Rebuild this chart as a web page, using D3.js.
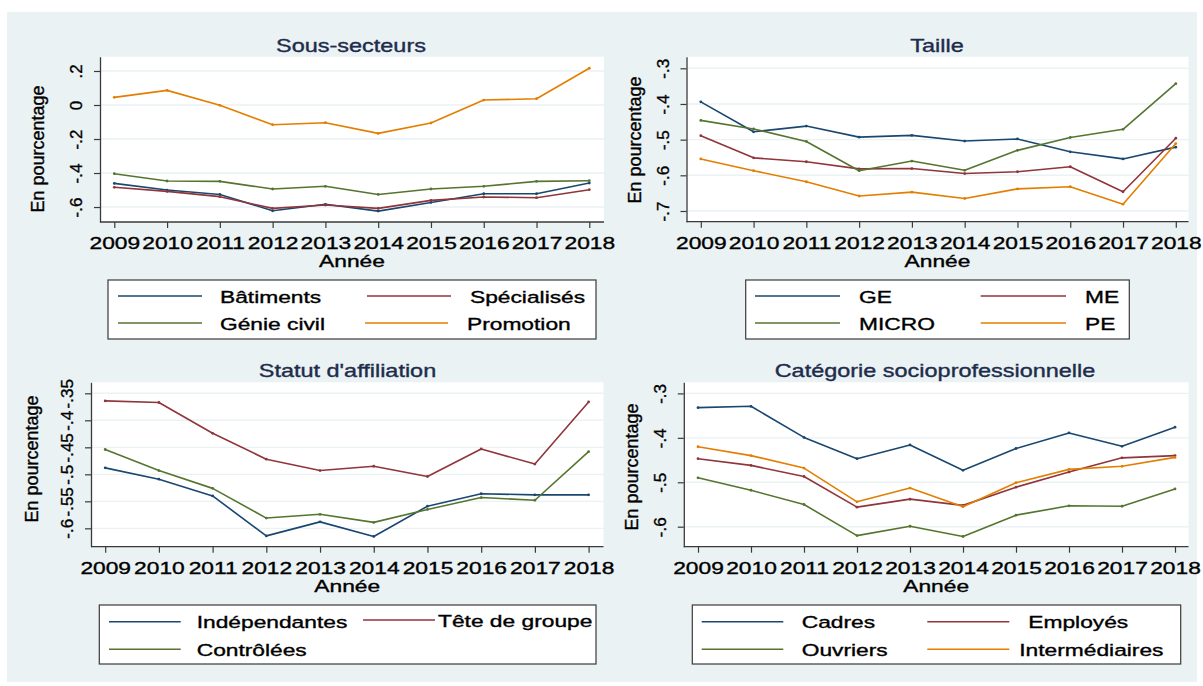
<!DOCTYPE html>
<html>
<head>
<meta charset="utf-8">
<script src="https://cdn.jsdelivr.net/npm/d3@7"></script>
<style>
  html, body { margin: 0; padding: 0; background: #ffffff; }
  svg { display: block; font-family: "Liberation Sans", Arial, sans-serif; }
  svg text { stroke-width: 0.35px; }
</style>
</head>
<body>
<svg id="chart" width="1203" height="686"></svg>
<script>
// Years on the x axis
const years = [2009, 2010, 2011, 2012, 2013, 2014, 2015, 2016, 2017, 2018];

// Sous-secteurs
const batiments   = [-0.461, -0.500, -0.526, -0.622, -0.584, -0.624, -0.573, -0.522, -0.522, -0.459];
const specialises = [-0.484, -0.508, -0.539, -0.608, -0.588, -0.608, -0.561, -0.541, -0.545, -0.498];
const genieCivil  = [-0.404, -0.447, -0.449, -0.494, -0.478, -0.526, -0.494, -0.478, -0.449, -0.445];
const promotion   = [0.045, 0.086, -0.002, -0.116, -0.104, -0.167, -0.106, 0.029, 0.037, 0.216];

// Taille
const ge    = [-0.394, -0.478, -0.462, -0.493, -0.488, -0.504, -0.498, -0.534, -0.554, -0.521];
const me    = [-0.489, -0.551, -0.562, -0.582, -0.581, -0.595, -0.590, -0.576, -0.646, -0.496];
const micro = [-0.446, -0.470, -0.505, -0.587, -0.560, -0.586, -0.530, -0.494, -0.471, -0.343];
const pe    = [-0.554, -0.587, -0.618, -0.658, -0.647, -0.665, -0.638, -0.632, -0.681, -0.511];

// Statut d'affiliation
const independantes = [-0.488, -0.509, -0.540, -0.614, -0.588, -0.615, -0.559, -0.536, -0.538, -0.538];
const teteDeGroupe  = [-0.364, -0.367, -0.424, -0.472, -0.493, -0.485, -0.504, -0.453, -0.481, -0.366];
const controlees    = [-0.454, -0.493, -0.526, -0.581, -0.574, -0.589, -0.565, -0.543, -0.548, -0.458];

// Catégorie socioprofessionnelle
const cadres         = [-0.332, -0.329, -0.399, -0.447, -0.416, -0.473, -0.424, -0.389, -0.419, -0.376];
const employes       = [-0.447, -0.462, -0.487, -0.556, -0.538, -0.552, -0.511, -0.477, -0.445, -0.440];
const ouvriers       = [-0.490, -0.518, -0.550, -0.620, -0.599, -0.622, -0.574, -0.553, -0.554, -0.515];
const intermediaires = [-0.420, -0.440, -0.468, -0.544, -0.513, -0.555, -0.501, -0.471, -0.464, -0.444];

// Y tick values and their labels
const ticksSousSecteurs = [-0.6, -0.4, -0.2, 0, 0.2];
const labelsSousSecteurs = ["-.6", "-.4", "-.2", "0", ".2"];
const ticksTaille = [-0.7, -0.6, -0.5, -0.4, -0.3];
const labelsTaille = ["-.7", "-.6", "-.5", "-.4", "-.3"];
const ticksStatut = [-0.6, -0.55, -0.5, -0.45, -0.4, -0.35];
const labelsStatut = ["-.6", "-.55", "-.5", "-.45", "-.4", "-.35"];
const ticksCsp = [-0.6, -0.5, -0.4, -0.3];
const labelsCsp = ["-.6", "-.5", "-.4", "-.3"];

const NAVY = "#1a476f", MAROON = "#90353b", GREEN = "#55752f", ORANGE = "#e37e00";
const BG = "#eaf2f3";
const SX = 1.34;   // horizontal widening of the upright labels

const svg = d3.select("#chart");

// graph region background
svg.append("rect").attr("x", 7).attr("y", 12).attr("width", 1190).attr("height", 670).attr("fill", BG);

const panels = [
  {
    title: "Sous-secteurs", titleX: 351, titleY: 51.7,
    left: 100, right: 604, top: 56.7, bottom: 222, x0: 114.3, x1: 589.3,
    yDomain: [-0.688, 0.284], ticks: ticksSousSecteurs, tickLabels: labelsSousSecteurs,
    yTitleX: 44, yTitleY: 149,
    series: [
      { name: "Bâtiments", values: batiments, color: NAVY },
      { name: "Spécialisés", values: specialises, color: MAROON },
      { name: "Génie civil", values: genieCivil, color: GREEN },
      { name: "Promotion", values: promotion, color: ORANGE }
    ],
    legend: {
      box: [108, 280, 596, 339],
      items: [
        { k: 0, x1: 118, x2: 202, tx: 220, y: 296 },
        { k: 1, x1: 367, x2: 451, tx: 470, y: 296 },
        { k: 2, x1: 118, x2: 202, tx: 220, y: 323 },
        { k: 3, x1: 365, x2: 448, tx: 467, y: 323 }
      ]
    }
  },
  {
    title: "Taille", titleX: 937, titleY: 51.7,
    left: 686.5, right: 1188.5, top: 56.7, bottom: 221.7, x0: 700.8, x1: 1175.8,
    yDomain: [-0.73, -0.2675], ticks: ticksTaille, tickLabels: labelsTaille,
    yTitleX: 641, yTitleY: 140,
    series: [
      { name: "GE", values: ge, color: NAVY },
      { name: "ME", values: me, color: MAROON },
      { name: "MICRO", values: micro, color: GREEN },
      { name: "PE", values: pe, color: ORANGE }
    ],
    legend: {
      box: [745.7, 280, 1129.3, 339],
      items: [
        { k: 0, x1: 755, x2: 840, tx: 859, y: 296 },
        { k: 1, x1: 980.7, x2: 1066, tx: 1085, y: 296 },
        { k: 2, x1: 755, x2: 840, tx: 859, y: 323 },
        { k: 3, x1: 980.7, x2: 1066, tx: 1085, y: 323 }
      ]
    }
  },
  {
    title: "Statut d'affiliation", titleX: 347.5, titleY: 376.7,
    left: 91, right: 603.5, top: 382.3, bottom: 546.7, x0: 105.2, x1: 588.6,
    yDomain: [-0.634, -0.3296], ticks: ticksStatut, tickLabels: labelsStatut,
    yTitleX: 38, yTitleY: 459,
    series: [
      { name: "Indépendantes", values: independantes, color: NAVY },
      { name: "Tête de groupe", values: teteDeGroupe, color: MAROON },
      { name: "Contrôlées", values: controlees, color: GREEN }
    ],
    legend: {
      box: [99.3, 605, 596, 664],
      items: [
        { k: 0, x1: 109, x2: 180.7, tx: 196.7, y: 621.7 },
        { k: 1, x1: 363, x2: 435, tx: 438, y: 620 },
        { k: 2, x1: 109, x2: 180.7, tx: 196.7, y: 649.3 }
      ]
    }
  },
  {
    title: "Catégorie socioprofessionnelle", titleX: 935, titleY: 376.7,
    left: 683.8, right: 1188.5, top: 382.3, bottom: 546.7, x0: 698, x1: 1175,
    yDomain: [-0.645, -0.275], ticks: ticksCsp, tickLabels: labelsCsp,
    yTitleX: 637.5, yTitleY: 467,
    series: [
      { name: "Cadres", values: cadres, color: NAVY },
      { name: "Employés", values: employes, color: MAROON },
      { name: "Ouvriers", values: ouvriers, color: GREEN },
      { name: "Intermédiaires", values: intermediaires, color: ORANGE }
    ],
    legend: {
      box: [692.3, 605, 1180.7, 664],
      items: [
        { k: 0, x1: 701.7, x2: 783.3, tx: 801.7, y: 621.7 },
        { k: 1, x1: 927.3, x2: 1009.3, tx: 1028.3, y: 621.7 },
        { k: 2, x1: 701.7, x2: 783.3, tx: 801.7, y: 649.3 },
        { k: 3, x1: 927.3, x2: 1009.3, tx: 1019.3, y: 649.3 }
      ]
    }
  }
];

function wideText(g, x, y, str, anchor, size, fill) {
  return g.append("text")
    .attr("transform", `translate(${x},${y}) scale(${SX},1)`)
    .attr("text-anchor", anchor)
    .attr("font-size", size)
    .attr("fill", fill)
    .attr("stroke", fill)
    .text(str);
}

panels.forEach(p => {
  const g = svg.append("g");
  const x = d3.scaleLinear().domain([years[0], years[years.length - 1]]).range([p.x0, p.x1]);
  const y = d3.scaleLinear().domain(p.yDomain).range([p.bottom, p.top]);

  // plot region
  g.append("rect")
    .attr("x", p.left).attr("y", p.top)
    .attr("width", p.right - p.left).attr("height", p.bottom - p.top)
    .attr("fill", "#ffffff");

  // horizontal grid
  g.selectAll("line.grid").data(p.ticks).join("line")
    .attr("class", "grid")
    .attr("x1", p.left).attr("x2", p.right)
    .attr("y1", d => y(d)).attr("y2", d => y(d))
    .attr("stroke", BG).attr("stroke-width", 1.4);

  // series lines
  const line = d3.line().x((d, i) => x(years[i])).y(d => y(d));
  p.series.forEach(s => {
    g.append("path").datum(s.values)
      .attr("d", line)
      .attr("fill", "none")
      .attr("stroke", s.color)
      .attr("stroke-width", 1.6)
      .attr("stroke-linejoin", "round");
    g.selectAll(null).data(s.values).join("circle")
      .attr("cx", (d, i) => x(years[i])).attr("cy", d => y(d))
      .attr("r", 1.4).attr("fill", s.color);
  });

  // y axis
  const yAxis = d3.axisLeft(y).tickValues(p.ticks)
    .tickFormat((d, i) => p.tickLabels[i]).tickSize(6).tickSizeOuter(0);
  const ya = g.append("g").attr("transform", `translate(${p.left},0)`).call(yAxis);
  ya.select(".domain").attr("stroke", "#3a3a3a").attr("stroke-width", 1.3);
  ya.selectAll(".tick line").attr("stroke", "#3a3a3a").attr("stroke-width", 1.2);
  ya.selectAll(".tick text")
    .attr("x", 0).attr("dy", 0)
    .attr("transform", "translate(-18,0) rotate(-90)")
    .attr("text-anchor", "middle")
    .attr("font-size", 17)
    .attr("font-family", "Liberation Sans, Arial, sans-serif")
    .attr("fill", "#000").attr("stroke", "#000");

  // x axis
  const xAxis = d3.axisBottom(x).tickValues(years).tickFormat(d3.format("d"))
    .tickSize(6).tickSizeOuter(0);
  const xa = g.append("g").attr("transform", `translate(0,${p.bottom})`).call(xAxis);
  xa.select(".domain").remove();
  xa.append("line").attr("x1", p.left).attr("x2", p.right).attr("y1", 0).attr("y2", 0)
    .attr("stroke", "#3a3a3a").attr("stroke-width", 1.3);
  xa.selectAll(".tick line").attr("stroke", "#3a3a3a").attr("stroke-width", 1.2);
  xa.selectAll(".tick text")
    .attr("y", 0).attr("dy", 0)
    .attr("transform", `translate(0,27) scale(${SX},1)`)
    .attr("text-anchor", "middle")
    .attr("font-size", 17)
    .attr("font-family", "Liberation Sans, Arial, sans-serif")
    .attr("fill", "#000").attr("stroke", "#000");

  // titles
  wideText(g, p.titleX, p.titleY, p.title, "middle", 17.5, "#1e2c4c");
  wideText(g, (p.left + p.right) / 2, p.bottom + 45, "Année", "middle", 17, "#000");
  g.append("text")
    .attr("transform", `translate(${p.yTitleX},${p.yTitleY}) rotate(-90)`)
    .attr("text-anchor", "middle")
    .attr("font-size", 18)
    .attr("fill", "#000").attr("stroke", "#000")
    .text("En pourcentage");

  // legend
  const L = p.legend;
  g.append("rect")
    .attr("x", L.box[0]).attr("y", L.box[1])
    .attr("width", L.box[2] - L.box[0]).attr("height", L.box[3] - L.box[1])
    .attr("fill", "#ffffff").attr("stroke", "#3a3a3a").attr("stroke-width", 1.2);
  L.items.forEach(it => {
    const s = p.series[it.k];
    g.append("line")
      .attr("x1", it.x1).attr("x2", it.x2).attr("y1", it.y).attr("y2", it.y)
      .attr("stroke", s.color).attr("stroke-width", 1.6);
    wideText(g, it.tx, it.y + 6.5, s.name, "start", 17, "#000");
  });
});
</script>
</body>
</html>
